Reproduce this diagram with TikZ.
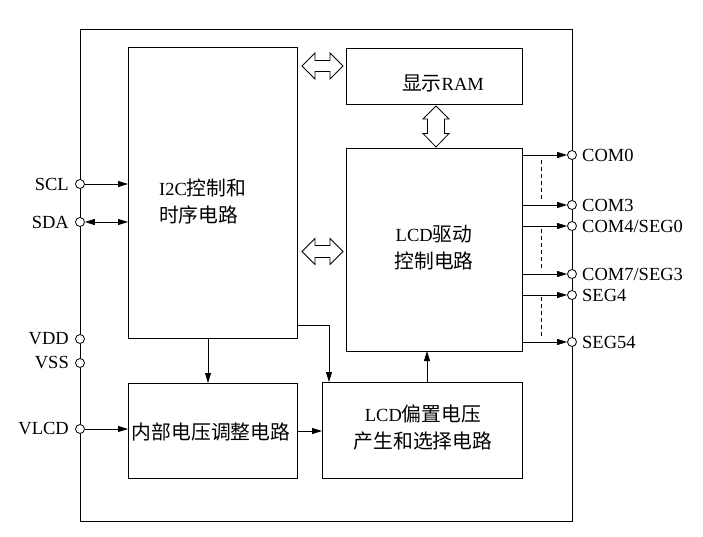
\documentclass[tikz,border=0pt]{standalone}
\usepackage{fontspec}
\setmainfont{Liberation Serif}
\newfontfamily\cjk{Noto Sans CJK SC}[Scale=1.07]
\usetikzlibrary{arrows.meta}
\begin{document}
\begin{tikzpicture}[x=1pt,y=-1pt,
  blk/.style={draw,line width=0.9pt},
  lbl/.style={font=\fontsize{18.5}{27}\selectfont,inner sep=0pt,align=center},
  pin/.style={circle,draw,fill=white,line width=0.8pt,minimum size=9pt,inner sep=0pt},
  conn/.style={line width=0.8pt},
  arr/.style={conn,-{Triangle[length=10pt,width=6pt]}},
  fat/.style={draw,line width=0.8pt,fill=white}]
\useasboundingbox (0,0) rectangle (703,537);
% frame
\draw[line width=1pt] (80,30) rectangle (572,521);
% blocks
\draw[blk] (128,47) rectangle (297,338);
\draw[blk] (346,48) rectangle (522,104);
\draw[blk] (346,148) rectangle (522,351);
\draw[blk] (128,383) rectangle (297,478);
\draw[blk] (322,382) rectangle (522,478);
% texts
\node[lbl,anchor=west,align=left] (ti2c) at (159,201) {I2C{\cjk 控制和}\\{\cjk 时序电路}};
\node[lbl] (tram) at (443,83) {{\cjk 显示}RAM};
\node[lbl] (tlcd) at (434,248) {LCD{\cjk 驱动}\\{\cjk 控制电路}};
\node[lbl] (tvr) at (211,432) {\cjk 内部电压调整电路};
\node[lbl] (tbias) at (423,428) {LCD{\cjk 偏置电压}\\{\cjk 产生和选择电路}};
% fat arrows
\draw[fat] (302,66) -- (315,53) -- (315,60.5) -- (330,60.5) -- (330,53) -- (343,66) -- (330,79) -- (330,71.5) -- (315,71.5) -- (315,79) -- cycle;
\draw[fat] (302,251.5) -- (315,238.5) -- (315,245.5) -- (330,245.5) -- (330,238.5) -- (343,251.5) -- (330,264.5) -- (330,257.5) -- (315,257.5) -- (315,264.5) -- cycle;
\draw[fat] (436,106) -- (449,119) -- (444.5,119) -- (444.5,133.5) -- (449,133.5) -- (436,147) -- (423,133.5) -- (427.5,133.5) -- (427.5,119) -- (423,119) -- cycle;
% internal connectors
\coordinate (a1) at (208,338);
\coordinate (a2) at (208,383);
\draw[arr] (a1) -- (a2);
\coordinate (b1) at (297,325);
\coordinate (b2) at (329,382);
\draw[arr] (b1) -| (b2);
\coordinate (c1) at (297,431);
\coordinate (c2) at (322,431);
\draw[arr] (c1) -- (c2);
\coordinate (d1) at (427,382);
\coordinate (d2) at (427,351);
\draw[arr] (d1) -- (d2);
% left pins
\foreach \n/\y/\t in {scl/184/SCL, sda/222/SDA, vdd/339/VDD, vss/363/VSS, vlcd/429/VLCD}{
  \node[pin] (\n) at (80,\y) {};
  \node[lbl,anchor=east] (t\n) at (69,\y) {\t};
}
\coordinate (scle) at (128,184);
\coordinate (sdae) at (128,222);
\coordinate (vlcde) at (128,429);
\draw[arr] (scl) -- (scle);
\draw[conn,{Triangle[length=10pt,width=6pt]}-{Triangle[length=10pt,width=6pt]}] (sda) -- (sdae);
\draw[arr] (vlcd) -- (vlcde);
% right pins
\foreach \n/\y/\t in {com0/155/{COM0}, com3/205/{COM3}, com4/226/{COM4/SEG0}, com7/274/{COM7/SEG3}, seg4/295/{SEG4}, seg54/342/{SEG54}}{
  \node[pin] (\n) at (572,\y) {};
  \node[lbl,anchor=west] (t\n) at (582,\y) {\t};
  \coordinate (s\n) at (522,\y);
  \draw[arr] (s\n) -- (\n);
}
% dashed
\draw[conn,dash pattern=on 4pt off 3pt] (541,160) -- (541,201);
\draw[conn,dash pattern=on 4pt off 3pt] (541,229) -- (541,271);
\draw[conn,dash pattern=on 4pt off 3pt] (541,297) -- (541,339);
\end{tikzpicture}
\end{document}
